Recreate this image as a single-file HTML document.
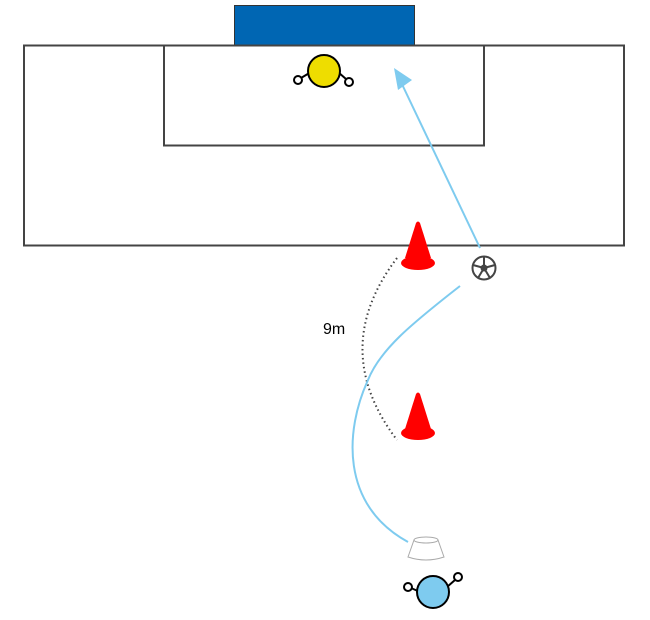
<!DOCTYPE html>
<html><head><meta charset="utf-8"><style>
html,body{margin:0;padding:0;background:#fff;width:650px;height:620px;overflow:hidden}
svg{display:block}
</style></head><body>
<svg width="650" height="620" viewBox="0 0 650 620" xmlns="http://www.w3.org/2000/svg">
<rect x="234.5" y="5.5" width="180" height="40" fill="#0066b3" stroke="#333" stroke-width="1"/>
<rect x="24" y="45.5" width="600" height="200" fill="none" stroke="#444" stroke-width="2"/>
<rect x="164" y="45.5" width="320" height="100" fill="none" stroke="#444" stroke-width="2"/>
<path d="M301,78 L311,72 M346,79 L338,72" stroke="#000" stroke-width="2" fill="none"/>
<circle cx="298" cy="80" r="4" fill="#fff" stroke="#000" stroke-width="2"/>
<circle cx="349" cy="82" r="4" fill="#fff" stroke="#000" stroke-width="2"/>
<circle cx="324" cy="71" r="16" fill="#eedd00" stroke="#000" stroke-width="2"/>
<line x1="480" y1="248" x2="400" y2="80" stroke="#7ecbef" stroke-width="2"/>
<polygon points="394,68 412,80 398,90" fill="#7ecbef"/>
<path d="M397,258 Q328,349 397,440" fill="none" stroke="#444" stroke-width="2" stroke-dasharray="1.5,3"/>
<text x="323" y="334" font-family="Liberation Sans, sans-serif" font-size="16" fill="#000">9m</text>
<path d="M460,286 C410,325 380,350 368,380 C345,430 340,505 408,542" fill="none" stroke="#7ecbef" stroke-width="2"/>
<g fill="#f00">
<path d="M416,223 Q418,220 420,223 L431,258 L405,258 Z"/>
<ellipse cx="418" cy="263" rx="17" ry="7"/>
<path d="M416,394 Q418,391 420,394 L431,429 L405,429 Z"/>
<ellipse cx="418" cy="433" rx="17" ry="7"/>
</g>
<circle cx="484" cy="268" r="11.5" fill="#fff" stroke="#444" stroke-width="2"/>
<circle cx="484" cy="268" r="3.5" fill="#444"/>
<path d="M484,268 L484,257 M484,268 L473,265 M484,268 L495,265 M484,268 L478,278 M484,268 L490,278" stroke="#444" stroke-width="2"/>
<path d="M414,540 L438,540 L444,557 Q426,563 408,557 Z" fill="#fff" stroke="#aaa" stroke-width="1"/>
<ellipse cx="426" cy="540" rx="12" ry="3" fill="#fff" stroke="#aaa" stroke-width="1"/>
<path d="M411,588 L420,592 M455,580 L447,587" stroke="#000" stroke-width="2" fill="none"/>
<circle cx="408" cy="587" r="4" fill="#fff" stroke="#000" stroke-width="2"/>
<circle cx="458" cy="577" r="4" fill="#fff" stroke="#000" stroke-width="2"/>
<circle cx="433" cy="592" r="16" fill="#7ecbef" stroke="#000" stroke-width="2"/>
</svg>
</body></html>
